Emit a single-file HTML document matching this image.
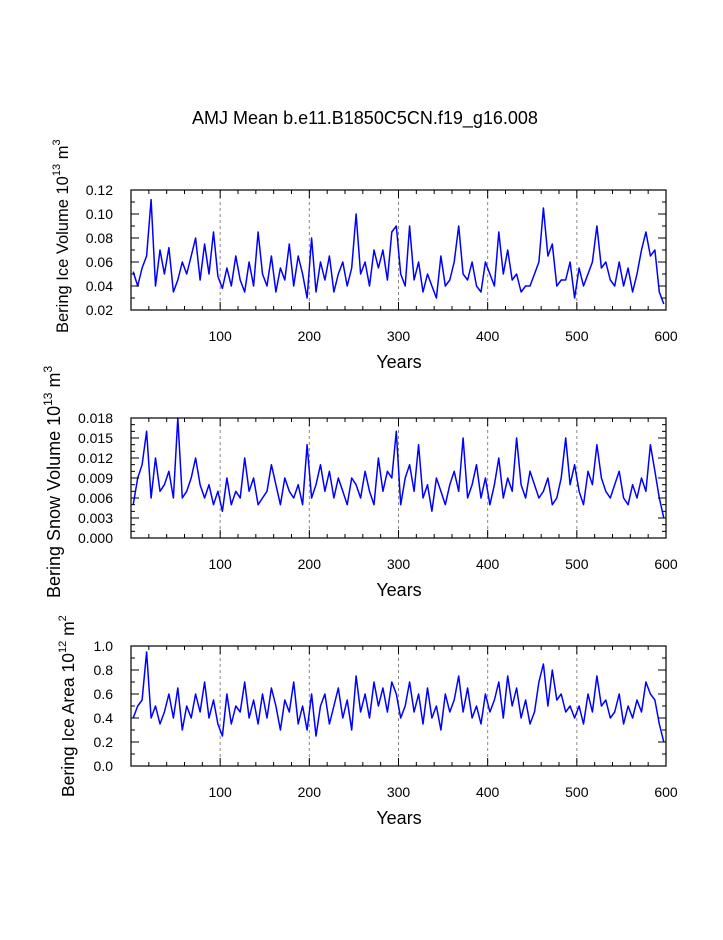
<!DOCTYPE html>
<html><head><meta charset="utf-8"><style>
body{margin:0;background:#fff;width:723px;height:935px;overflow:hidden}
svg{font-family:"Liberation Sans",Arial,sans-serif}
</style></head><body>
<svg id="c" width="723" height="935" viewBox="0 0 723 935">
<text x="365" y="124" font-size="18" text-anchor="middle">AMJ Mean b.e11.B1850C5CN.f19_g16.008</text>
</svg>
<script>
const years = [100,200,300,400,500,600];
const iceVolume = [5.2,4.0,5.5,6.5,11.2,4.0,7.0,5.0,7.2,3.5,4.5,6.0,5.0,6.5,8.0,4.5,7.5,5.0,8.5,4.8,
3.8,5.5,4.0,6.5,4.5,3.5,6.0,4.0,8.5,5.0,4.0,6.5,3.5,5.5,4.5,7.5,4.0,6.5,5.0,3.0,
8.0,3.5,6.0,4.5,6.5,3.5,5.0,6.0,4.0,5.5,10.0,5.0,6.0,4.0,7.0,5.5,7.0,4.5,8.5,9.0,
5.0,4.0,9.0,4.5,6.0,3.5,5.0,4.0,3.0,6.5,4.0,4.5,6.0,9.0,5.0,4.5,6.0,4.0,3.5,6.0,
5.0,4.0,8.5,5.0,7.0,4.5,5.0,3.5,4.0,4.0,5.0,6.0,10.5,6.5,7.5,4.0,4.5,4.5,6.0,3.0,
5.5,4.0,5.0,6.0,9.0,5.5,6.0,4.5,4.0,6.0,4.0,5.5,3.5,5.0,7.0,8.5,6.5,7.0,3.5,2.5].map(v=>v/100);
const snowVolume = [5,9,11,16,6,12,7,8,10,6,18,6,7,9,12,8,6,8,5,7,
4,9,5,7,6,12,7,9,5,6,7,11,8,5,9,7,6,8,5,14,
6,8,11,7,10,6,9,7,5,9,8,6,10,7,5,12,7,10,9,16,
5,9,11,7,14,6,8,4,9,7,5,8,10,7,15,6,8,11,6,9,
5,8,12,6,9,7,15,8,6,10,8,6,7,9,5,6,9,15,8,11,
7,5,10,8,14,9,7,6,8,10,6,5,8,6,9,7,14,10,6,3].map(v=>v/1000);
const iceArea = [.4,.5,.55,.95,.4,.5,.35,.45,.6,.4,.65,.3,.5,.4,.6,.45,.7,.4,.55,.35,
.25,.6,.35,.5,.45,.7,.4,.55,.35,.6,.4,.65,.5,.3,.55,.45,.7,.35,.5,.3,
.6,.25,.5,.6,.35,.5,.65,.4,.55,.3,.75,.45,.6,.4,.7,.5,.65,.45,.7,.6,
.4,.5,.7,.45,.6,.35,.65,.4,.5,.3,.6,.45,.55,.75,.45,.65,.4,.5,.35,.6,
.45,.55,.7,.4,.75,.5,.65,.4,.55,.35,.45,.7,.85,.5,.8,.55,.6,.45,.5,.4,
.5,.35,.6,.45,.75,.5,.55,.4,.45,.6,.35,.5,.4,.55,.45,.7,.6,.55,.35,.2];
const ticks1 = ["0.02","0.04","0.06","0.08","0.10","0.12"];
const ticks2 = ["0.000","0.003","0.006","0.009","0.012","0.015","0.018"];
const ticks3 = ["0.0","0.2","0.4","0.6","0.8","1.0"];

const svg=document.getElementById('c');
const NS='http://www.w3.org/2000/svg';
function mk(t,a,p){const e=document.createElementNS(NS,t);for(const k in a)e.setAttribute(k,a[k]);(p||svg).appendChild(e);return e;}
const X0=131,X1=666;
const xs=y=>X0+(y)/600*(X1-X0);

function panel(top,data,ticks,ymin,ymax,minorN,name,titleHtml,tx,ty,fs){
  const bot=top+120;
  const g=mk('g',{});
  
  
  const ys=v=>bot-(v-ymin)/(ymax-ymin)*120;
  years.slice(0,5).forEach(y=>{const l=mk('line',{x1:xs(y),x2:xs(y),y1:top,y2:bot,stroke:'#888','stroke-dasharray':'3,3'},g);
    });
  const step=600/data.length;
  const pts=data.map((v,i)=>xs(i*step+step/2).toFixed(1)+','+ys(v).toFixed(1)).join(' ');
  const pl=mk('polyline',{points:pts,fill:'none',stroke:'#0000ff','stroke-width':1.5,'stroke-linejoin':'round'},g);
  
  const fr=mk('rect',{x:X0,y:top,width:X1-X0,height:120,fill:'none',stroke:'#000','stroke-width':1.2},g);
  
  for(let y=20;y<=600;y+=20){const maj=y%100===0;const L=maj?8:4;
    mk('line',{x1:xs(y),x2:xs(y),y1:bot,y2:bot-L,stroke:'#000'},g);
    mk('line',{x1:xs(y),x2:xs(y),y1:top,y2:top+L,stroke:'#000'},g);}
  years.forEach(y=>{const t=mk('text',{x:xs(y),y:bot+31,'font-size':14,'text-anchor':'middle'},g);t.textContent=String(y);
    });
  const xt=mk('text',{x:399,y:bot+58,'font-size':18,'text-anchor':'middle'},g);xt.textContent='Years';
  
  const n=ticks.length-1;
  for(let i=0;i<=n*minorN;i++){const v=ymin+(ymax-ymin)*i/(n*minorN);const yy=ys(v);const maj=i%minorN===0;const L=maj?8:4;
    mk('line',{x1:X0,x2:X0+L,y1:yy,y2:yy,stroke:'#000'},g);
    mk('line',{x1:X1,x2:X1-L,y1:yy,y2:yy,stroke:'#000'},g);}
  ticks.forEach((s,i)=>{const t=mk('text',{x:X0-18,y:ys(ymin+(ymax-ymin)*i/n)+5,'font-size':14,'text-anchor':'end'},g);t.textContent=s;
    });
  const yt=mk('text',{x:0,y:0,'font-size':fs,'text-anchor':'start',transform:`translate(${tx},${ty}) rotate(-90)`},g);
  yt.innerHTML=titleHtml;
  
}
panel(190,iceVolume,ticks1,0.02,0.12,2,'ice-volume','Bering Ice Volume 10<tspan font-size="11" dy="-8">13</tspan><tspan dy="8"> m</tspan><tspan font-size="11" dy="-8">3</tspan>',68,333,16.5);
panel(418,snowVolume,ticks2,0,0.018,3,'snow','Bering Snow Volume 10<tspan font-size="12" dy="-8">13</tspan><tspan dy="8"> m</tspan><tspan font-size="12" dy="-8">3</tspan>',60,598,18);
panel(646,iceArea,ticks3,0,1.0,2,'ice-area','Bering Ice Area 10<tspan font-size="11" dy="-8">12</tspan><tspan dy="8"> m</tspan><tspan font-size="11" dy="-8">2</tspan>',74,797,17.5);
</script>
</body></html>
